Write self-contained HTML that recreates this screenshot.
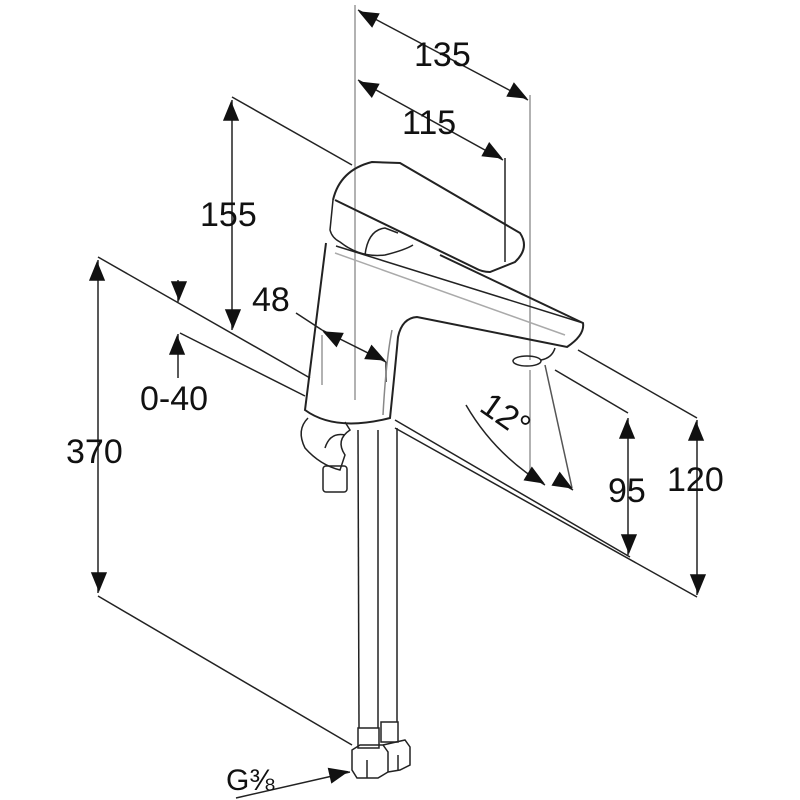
<!DOCTYPE html>
<html><head><meta charset="utf-8"><style>
html,body{margin:0;padding:0;background:#fff}
svg{display:block}
text{font-family:"Liberation Sans",sans-serif;font-size:34px;fill:#111}
</style></head><body>
<svg width="800" height="800" viewBox="0 0 800 800" xmlns="http://www.w3.org/2000/svg">
<defs>
<marker id="a" viewBox="0 0 10 10" refX="10" refY="5" markerWidth="10" markerHeight="10" markerUnits="userSpaceOnUse" orient="auto-start-reverse" overflow="visible">
<path d="M-12,-4 L10,5 L-12,14 z" fill="#111" transform="scale(0.9) translate(0,-0.5)"/>
</marker>
</defs>
<g stroke="#222" stroke-width="1.5" fill="none">
<!-- extension lines -->
<line x1="355" y1="5" x2="355" y2="400" stroke="#999"/>
<line x1="530" y1="95" x2="530" y2="360" stroke="#999"/>
<line x1="530" y1="370" x2="530" y2="475" stroke="#999"/>
<line x1="505" y1="158" x2="505" y2="262"/>
<line x1="232" y1="97" x2="352" y2="165"/>
<line x1="98" y1="257" x2="310" y2="378"/>
<line x1="395" y1="428" x2="697" y2="597"/>
<line x1="180" y1="333" x2="305" y2="396"/>
<line x1="395" y1="420" x2="630" y2="557"/>
<line x1="98" y1="596" x2="352" y2="745"/>
<line x1="578" y1="350" x2="697" y2="418"/>
<line x1="555" y1="370" x2="628" y2="413"/>
<line x1="322" y1="335" x2="322" y2="385" stroke="#999"/>
<line x1="386" y1="362" x2="386" y2="382"/>
<!-- dims -->
<line x1="358" y1="10" x2="528" y2="100" marker-start="url(#a)" marker-end="url(#a)"/>
<line x1="358" y1="80" x2="503" y2="160" marker-start="url(#a)" marker-end="url(#a)"/>
<line x1="232" y1="100" x2="232" y2="330" marker-start="url(#a)" marker-end="url(#a)"/>
<line x1="98" y1="260" x2="98" y2="593" marker-start="url(#a)" marker-end="url(#a)"/>
<line x1="628" y1="418" x2="628" y2="555" marker-start="url(#a)" marker-end="url(#a)"/>
<line x1="697" y1="420" x2="697" y2="595" marker-start="url(#a)" marker-end="url(#a)"/>
<line x1="178" y1="280" x2="178" y2="302" marker-end="url(#a)"/>
<line x1="178" y1="378" x2="178" y2="334" marker-end="url(#a)"/>
<line x1="296" y1="313" x2="322" y2="330"/>
<line x1="322" y1="330" x2="386" y2="362" marker-start="url(#a)" marker-end="url(#a)"/>
<path d="M466,405 Q495,455 545,485" marker-end="url(#a)"/>
<line x1="545" y1="365" x2="572" y2="488" stroke="#555"/>
<line x1="556" y1="480" x2="573" y2="490" marker-end="url(#a)"/>
<line x1="236" y1="798" x2="350" y2="772" marker-end="url(#a)"/>
<!-- handle -->
<path d="M333,200 Q340,170 372,162 L400,163 L520,233 Q530,248 515,262 L490,272 Q482,272 475,268 L335,200" stroke-width="2"/>
<path d="M333,200 L330,230 Q332,238 340,242 Q360,258 385,255 Q405,250 413,245"/>
<path d="M365,255 Q368,230 385,228 L398,233"/>
<!-- body -->
<path d="M326,243 L305,410 Q335,432 390,418 Q395,370 398,337 Q402,318 417,317 L567,347 Q585,335 583,323 L440,255" stroke-width="2"/>
<path d="M336,246 L583,323"/>
<path d="M335,253 L565,335" stroke="#aaa"/>
<path d="M392,330 Q386,360 383,415" stroke="#888"/>
<ellipse cx="527" cy="361" rx="14" ry="5"/>
<path d="M541,360 Q552,358 555,348"/>
<!-- pop-up lever -->
<path d="M308,418 Q296,430 305,448 Q320,465 340,470 L345,455 Q335,440 350,430 L345,422"/>
<path d="M325,448 Q330,432 345,435"/>
<rect x="323" y="466" width="24" height="26" rx="3"/>
<!-- stem -->
<line x1="358" y1="430" x2="359" y2="728"/>
<line x1="378" y1="430" x2="378" y2="728"/>
<line x1="397" y1="428" x2="397" y2="722"/>
<rect x="358" y="728" width="21" height="20"/>
<rect x="381" y="722" width="17" height="20"/>
<path d="M352,750 L360,745 L383,745 L388,752 L388,772 L378,778 L357,778 L352,770 Z"/>
<path d="M383,745 L405,740 L410,747 L410,765 L400,770 L388,772"/>
<line x1="367" y1="760" x2="367" y2="778"/>
<line x1="398" y1="755" x2="398" y2="770"/>
</g>
<text x="414" y="66">135</text>
<text x="402" y="134">115</text>
<text x="200" y="226">155</text>
<text x="252" y="311">48</text>
<text x="140" y="410">0-40</text>
<text x="66" y="463">370</text>
<text x="608" y="502">95</text>
<text x="667" y="491">120</text>
<text x="0" y="0" transform="translate(478,410) rotate(35)">12°</text>
<text x="226" y="790" style="font-size:30px">G⅜</text>
</svg>
</body></html>
